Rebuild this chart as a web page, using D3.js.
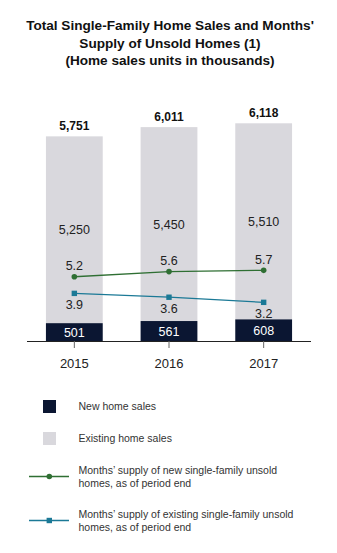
<!DOCTYPE html>
<html>
<head>
<meta charset="utf-8">
<script src="https://cdn.jsdelivr.net/npm/d3@7/dist/d3.min.js"></script>
<style>
  html, body { margin: 0; padding: 0; background: #fff; }
  svg { display: block; font-family: "Liberation Sans", Arial, Helvetica, sans-serif; }
</style>
</head>
<body>
<svg id="chart" width="337" height="553"></svg>
<script>
const years = ["2015", "2016", "2017"];
const newSales = [501, 561, 608];
const existingSales = [5250, 5450, 5510];
const totalSales = [5751, 6011, 6118];
const newSupply = [5.2, 5.6, 5.7];
const existingSupply = [3.9, 3.6, 3.2];
const titleLines = ["Total Single-Family Home Sales and Months'", "Supply of Unsold Homes (1)", "(Home sales units in thousands)"];
const legendLabels = [
  ["New home sales"],
  ["Existing home sales"],
  ["Months’ supply of new single-family unsold", "homes, as of period end"],
  ["Months’ supply of existing single-family unsold", "homes, as of period end"]
];

const colors = { newSales: "#0b1632", existing: "#d9d8dd", green: "#2f6f33", blue: "#1b7996", text: "#222" };

const svg = d3.select("#chart");
const fmt = d3.format(",");

// Title
svg.append("g").selectAll("text").data(titleLines).join("text")
  .attr("x", 170).attr("y", (d, i) => 30 + i * 17.5)
  .attr("text-anchor", "middle").attr("font-weight", "bold").attr("font-size", 13.6)
  .attr("fill", "#111").text(d => d);

const baseY = 341;
const x = d3.scaleBand().domain(years).range([27, 311]).paddingInner(0.4).paddingOuter(0.2);
const y = d3.scaleLinear().domain([0, 6118]).range([baseY, 123.3]);
const y2 = d3.scaleLinear().domain([0, 10]).range([343.3, 343.3 - 128]);

const bw = x.bandwidth();
const cx = d => x(d) + bw / 2;

// Existing segments
svg.append("g").selectAll("rect").data(years).join("rect")
  .attr("x", d => x(d)).attr("width", bw)
  .attr("y", (d, i) => y(newSales[i] + existingSales[i]))
  .attr("height", (d, i) => y(newSales[i]) - y(newSales[i] + existingSales[i]))
  .attr("fill", colors.existing);
// New segments
svg.append("g").selectAll("rect").data(years).join("rect")
  .attr("x", d => x(d)).attr("width", bw)
  .attr("y", (d, i) => y(newSales[i]))
  .attr("height", (d, i) => y(0) - y(newSales[i]))
  .attr("fill", colors.newSales);

// Axis
const axis = d3.axisBottom(x).tickSize(7).tickPadding(11);
const ag = svg.append("g").attr("transform", `translate(0,${baseY})`).call(axis);
ag.select(".domain").attr("stroke", "#222").attr("stroke-width", 1.2).attr("d", "M27,0.5H311");
ag.selectAll(".tick line").attr("stroke", "#666");
ag.selectAll(".tick text").attr("font-size", 13).attr("fill", colors.text).attr("font-family", "Liberation Sans, Arial, sans-serif");

// Totals
svg.append("g").selectAll("text").data(years).join("text")
  .attr("x", d => cx(d)).attr("y", (d, i) => y(totalSales[i]) - 6)
  .attr("text-anchor", "middle").attr("font-weight", "bold").attr("font-size", 12)
  .attr("fill", "#111").text((d, i) => fmt(totalSales[i]));
// Existing labels
svg.append("g").selectAll("text").data(years).join("text")
  .attr("x", d => cx(d)).attr("y", (d, i) => (y(newSales[i] + existingSales[i]) + y(newSales[i])) / 2 + 4.5)
  .attr("text-anchor", "middle").attr("font-size", 12.5)
  .attr("fill", colors.text).text((d, i) => fmt(existingSales[i]));
// New labels
svg.append("g").selectAll("text").data(years).join("text")
  .attr("x", d => cx(d)).attr("y", (d, i) => (y(newSales[i]) + y(0)) / 2 + 5)
  .attr("text-anchor", "middle").attr("font-size", 12.5)
  .attr("fill", "#fff").text((d, i) => fmt(newSales[i]));

// Lines
const lineGen = d3.line().x((d, i) => cx(years[i])).y(d => y2(d));
svg.append("path").datum(newSupply).attr("d", lineGen).attr("fill", "none").attr("stroke", colors.green).attr("stroke-width", 1.3);
svg.append("path").datum(existingSupply).attr("d", lineGen).attr("fill", "none").attr("stroke", colors.blue).attr("stroke-width", 1.3);
svg.append("g").selectAll("circle").data(newSupply).join("circle")
  .attr("cx", (d, i) => cx(years[i])).attr("cy", d => y2(d)).attr("r", 2.8).attr("fill", colors.green);
svg.append("g").selectAll("rect").data(existingSupply).join("rect")
  .attr("x", (d, i) => cx(years[i]) - 2.7).attr("y", d => y2(d) - 2.7)
  .attr("width", 5.4).attr("height", 5.4).attr("fill", colors.blue);
svg.append("g").selectAll("text").data(newSupply).join("text")
  .attr("x", (d, i) => cx(years[i])).attr("y", d => y2(d) - 6.5)
  .attr("text-anchor", "middle").attr("font-size", 12.5).attr("fill", colors.text).text(d => d.toFixed(1));
svg.append("g").selectAll("text").data(existingSupply).join("text")
  .attr("x", (d, i) => cx(years[i])).attr("y", d => y2(d) + 15.5)
  .attr("text-anchor", "middle").attr("font-size", 12.5).attr("fill", colors.text).text(d => d.toFixed(1));

// Legend
const lg = svg.append("g");
const legendY = [406.5, 438.5, 476.5, 520.5];
lg.append("rect").attr("x", 43).attr("y", legendY[0] - 6.5).attr("width", 13).attr("height", 13).attr("fill", colors.newSales);
lg.append("rect").attr("x", 43).attr("y", legendY[1] - 6.5).attr("width", 13).attr("height", 13).attr("fill", colors.existing);
lg.append("line").attr("x1", 29).attr("x2", 69).attr("y1", legendY[2]).attr("y2", legendY[2]).attr("stroke", colors.green).attr("stroke-width", 1.5);
lg.append("circle").attr("cx", 49.3).attr("cy", legendY[2]).attr("r", 2.8).attr("fill", colors.green);
lg.append("line").attr("x1", 29).attr("x2", 69).attr("y1", legendY[3]).attr("y2", legendY[3]).attr("stroke", colors.blue).attr("stroke-width", 1.5);
lg.append("rect").attr("x", 49.3 - 2.7).attr("y", legendY[3] - 2.7).attr("width", 5.4).attr("height", 5.4).attr("fill", colors.blue);
const textTop = [406, 438.3, 470, 514.3];
legendLabels.forEach((lines, k) => {
  lines.forEach((t, j) => {
    lg.append("text").attr("x", 78.5).attr("y", textTop[k] + j * 12.6 + 4)
      .attr("font-size", 10.5).attr("fill", "#333").text(t);
  });
});
</script>
</body>
</html>
